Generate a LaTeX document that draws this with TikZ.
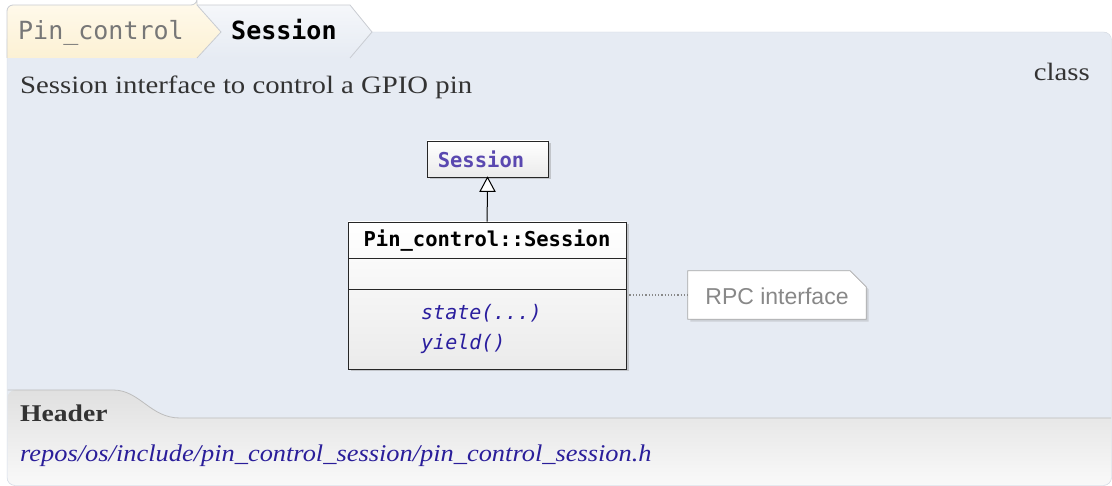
\documentclass[tikz,border=0pt]{standalone}
\usepackage{fontspec}
\setmainfont{Liberation Serif}
\newfontfamily\monof{DejaVu Sans Mono}
\newfontfamily\serf[FakeStretch=1.15]{Liberation Serif}
\newfontfamily\pathf[FakeStretch=1.1]{Liberation Serif}
\newfontfamily\notef{Liberation Sans}
\usetikzlibrary{arrows.meta,shadows}
\definecolor{panelbg}{HTML}{E6EBF3}
\definecolor{panelbd}{HTML}{D2D7DF}
\definecolor{tabyel}{HTML}{FCF1D4}
\definecolor{tabyeltop}{HTML}{FFF9EA}
\definecolor{tabbd}{HTML}{C9CCD2}
\definecolor{crumbgray}{HTML}{777777}
\definecolor{supcol}{HTML}{5A48B0}
\definecolor{methcol}{HTML}{2A1E9E}
\definecolor{pathcol}{HTML}{2A1E9A}
\definecolor{notetext}{HTML}{888888}
\definecolor{notebd}{HTML}{A8A8A8}
\definecolor{hdrtop}{HTML}{E0E0E0}
\definecolor{hdrbot}{HTML}{F9F9F9}
\definecolor{hdrbd}{HTML}{BDBDBD}
\definecolor{darktext}{HTML}{333333}
\tikzset{
  umlbox/.style={draw=black!85, line width=0.9pt, top color=white, bottom color=black!8,
    drop shadow={shadow xshift=2.5pt, shadow yshift=-2.5pt, opacity=0.35}, inner sep=0pt},
  membertext/.style={font=\monof\itshape\fontsize{20}{24}\selectfont, text=methcol, anchor=base west, inner sep=0pt},
  notebox/.style={inner sep=0pt, minimum width=178, minimum height=48}
}
\begin{document}
\begin{tikzpicture}[x=1pt,y=-1pt]
\useasboundingbox (0,0) rectangle (1112,486);
% panel
\filldraw[fill=panelbg, draw=panelbd, rounded corners=8pt] (7,32) rectangle (1111.5,485.5);
% header area
\shade[top color=hdrtop, bottom color=hdrbot, rounded corners=8pt]
  (7.5,400) -- (7.5,485) -- (1111,485) -- (1111,418) [sharp corners] -- (1111,418) -- (180,418)
  .. controls (150,418) and (140,390) .. (113,390) -- (16,390) [rounded corners=8pt] -- (7.5,390) -- cycle;
\draw[hdrbd, line width=0.8pt] (7.5,390) -- (113,390) .. controls (140,390) and (150,418) .. (180,418) -- (1111,418);
% breadcrumb tabs
\shade[top color=white!60!panelbg, bottom color=panelbg] (197,5) -- (350,5) -- (372,32) -- (350,58) -- (197,58) -- (221,32) -- cycle;
\draw[tabbd, line width=0.8pt] (197,5) -- (350,5) -- (372,32) -- (350,58);
\shade[top color=tabyeltop, bottom color=tabyel, rounded corners=6pt] (7,58) -- (7,5) -- (197,5) [sharp corners] -- (197,5) -- (221,32) -- (197,58) -- cycle;
\draw[tabbd, line width=0.8pt, rounded corners=6pt] (7,58) -- (7,5) -- (197,5) [sharp corners] -- (197,5) -- (221,32) -- (197,58);
\node[anchor=base west, inner sep=0pt, font=\monof\fontsize{25}{28}\selectfont, text=crumbgray] (crumb1) at (18,40) {Pin\_control};
\node[anchor=base west, inner sep=0pt, font=\monof\bfseries\fontsize{25}{28}\selectfont, text=black] (crumb2) at (231,40) {Session};
% description
\node[anchor=base west, inner sep=0pt, font=\serf\fontsize{25}{28}\selectfont, text=darktext] (desc) at (20,94) {Session interface to control a GPIO pin};
\node[anchor=base east, inner sep=0pt, font=\serf\fontsize{25}{28}\selectfont, text=darktext] (kind) at (1090,81) {class};
% superclass
\node[umlbox, minimum width=121, minimum height=36] (sup) at (487.5,159) {};
\node[inner sep=0pt, font=\monof\bfseries\fontsize{20.5}{24}\selectfont, text=supcol] (suptext) at (481,159.5) {Session};
% class
\node[umlbox, minimum width=278, minimum height=147] (cls) at (487,295.5) {};
\draw[black!85, line width=0.9pt] (348,258) -- (626,258);
\draw[black!85, line width=0.9pt] (348,289) -- (626,289);
\node[inner sep=0pt, font=\monof\bfseries\fontsize{20.5}{24}\selectfont] (clstitle) at (487,240.5) {Pin\_control::Session};
\node[membertext] (m1) at (421,320) {state(...)};
\node[membertext] (m2) at (421,350) {yield()};
% inheritance
\draw[black, line width=1pt] (cls.north) -- ([yshift=-14pt]sup.south);
\filldraw[fill=white, draw=black, line width=1pt, line join=miter]
  (sup.south) -- ++(-7.5,14) -- ++(15,0) -- cycle;
% note
\node[notebox] (note) at (777,295) {};
\filldraw[fill=white, draw=notebd, line width=0.8pt, drop shadow={shadow xshift=2.5pt, shadow yshift=-2.5pt, opacity=0.25}]
  (note.north west) -- ([xshift=-16pt]note.north east) -- ([yshift=-16pt]note.north east) -- (note.south east) -- (note.south west) -- cycle;
\node[inner sep=0pt, font=\notef\fontsize{23}{26}\selectfont, text=notetext] (notetext) at (777,296) {RPC interface};
\draw[notetext, line width=1.2pt, dotted] (cls.east |- note.west) ++(3,0) -- (note.west);
% header
\node[anchor=base west, inner sep=0pt, font=\serf\bfseries\fontsize{24}{28}\selectfont, text=darktext] (hdr) at (20,422) {Header};
\node[anchor=base west, inner sep=0pt, font=\pathf\itshape\fontsize{24}{28}\selectfont, text=pathcol] (path) at (20,461) {repos/os/include/pin\_control\_session/pin\_control\_session.h};
\end{tikzpicture}
\end{document}
